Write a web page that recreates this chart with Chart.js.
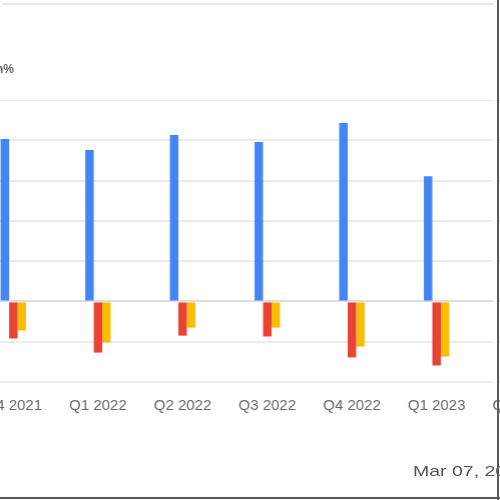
<!DOCTYPE html>
<html><head><meta charset="utf-8">
<script src="https://cdn.jsdelivr.net/npm/chart.js@4/dist/chart.umd.min.js"></script>
<style>
html,body{margin:0;padding:0;width:500px;height:500px;overflow:hidden;background:#fff;font-family:Arial,"Liberation Sans",sans-serif;}
#wrap{position:absolute;left:-30px;top:80px;width:600px;height:340px;}
#c{filter:blur(0.4px);}
#topline{position:absolute;left:3px;top:3px;width:490px;height:2px;background:#e6e6e6;}
#rightmask{position:absolute;left:493px;top:0;width:4px;height:386px;background:#fff;z-index:4;}
#frameR{position:absolute;left:497px;top:0;width:2px;height:500px;background:#5a5a5a;z-index:5;}
#frameB{position:absolute;left:0;top:497px;width:500px;height:2px;background:#5a5a5a;z-index:5;}
#ytitle{position:absolute;right:486px;top:62px;font-size:12px;font-weight:bold;color:#666;white-space:nowrap;filter:blur(0.3px);}
#date{position:absolute;left:413px;top:462px;font-size:15px;color:#555;white-space:nowrap;transform:scaleX(1.3);transform-origin:left top;filter:blur(0.3px);}
</style></head>
<body>
<div id="topline"></div>
<div id="ytitle"></div>
<div id="wrap"><canvas id="c"></canvas></div>
<div id="rightmask"></div>
<div id="date"></div>
<div id="frameR"></div>
<div id="frameB"></div>
<script>
const categories = ['Q4 2021','Q1 2022','Q2 2022','Q3 2022','Q4 2022','Q1 2023','Q2 2023'];
const seriesBlue = [40.3, 37.6, 41.3, 39.6, 44.3, 31.1, null];
const seriesRed = [-9.2, -12.7, -8.5, -8.7, -13.9, -15.9, null];
const seriesYellow = [-7.2, -10.2, -6.5, -6.5, -11.2, -13.7, null];
const yMin = -20, yMax = 50, yStep = 10;
const dateLabel = 'Mar 07, 2023';
const axisTitle = 'Growth%';

document.getElementById('date').textContent = dateLabel;
document.getElementById('ytitle').textContent = axisTitle;

const TARGET = {left: -28.75, top: 100, w: 591.5, h: 282};
const wrap = document.getElementById('wrap');

const chart = new Chart(document.getElementById('c'), {
  type: 'bar',
  data: {
    labels: categories,
    datasets: [
      {data: seriesBlue, backgroundColor: '#4285F4'},
      {data: seriesRed, backgroundColor: '#EA4335'},
      {data: seriesYellow, backgroundColor: '#FBBC04'}
    ]
  },
  options: {
    responsive: true,
    maintainAspectRatio: false,
    animation: false,
    layout: {padding: 0},
    datasets: {bar: {categoryPercentage: 0.3, barPercentage: 1.0}},
    plugins: {legend: {display: false}, tooltip: {enabled: false}},
    scales: {
      x: {
        grid: {display: false},
        border: {display: false},
        ticks: {color: '#666', font: {size: 15, family: 'Arial'}, padding: 7, maxRotation: 0, autoSkip: false}
      },
      y: {
        min: yMin, max: yMax,
        afterFit: s => { s.width = 0; },
        border: {display: false},
        ticks: {display: false, stepSize: yStep},
        grid: {drawTicks: false, lineWidth: 2, color: c => c.tick && c.tick.value === 0 ? '#dedede' : '#ececec'}
      }
    }
  }
});

function place() {
  let ca = chart.chartArea;
  const nw = wrap.offsetWidth + (TARGET.w - (ca.right - ca.left));
  const nh = wrap.offsetHeight + (TARGET.h - (ca.bottom - ca.top));
  wrap.style.width = nw + 'px';
  wrap.style.height = nh + 'px';
  chart.resize(nw, nh);
  ca = chart.chartArea;
  wrap.style.left = (TARGET.left - ca.left) + 'px';
  wrap.style.top = (TARGET.top - ca.top) + 'px';
}
place();
</script>
</body></html>
